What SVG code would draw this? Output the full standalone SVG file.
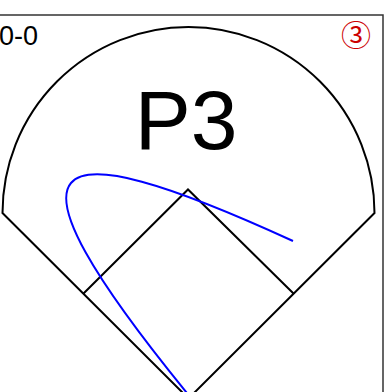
<svg xmlns="http://www.w3.org/2000/svg" width="384" height="392" viewBox="0 0 384 392">
<style>
.ln{fill:none;stroke:#000;stroke-width:2;stroke-linejoin:miter}
.frame{fill:none;stroke:#333;stroke-width:1.5}
.pitch{fill:none;stroke:#0000ff;stroke-width:2}
.t{font-family:"Liberation Sans",Arial,sans-serif;fill:#000}
</style>
<rect width="384" height="392" fill="#fff"/>
<g id="frame"><path class="frame" d="M0,15 H383 V392"/></g>
<g id="field">
<path class="ln" d="M2.5,213 A186,186 0 0 1 374.5,213 L188.5,398.5 Z"/>
<path class="ln" d="M83,294 L188,189.5 L294,294"/>
</g>
<g id="count"><text class="t" x="-1" y="45" font-size="27">0-0</text></g>
<g id="label"><text class="t" x="186" y="149" font-size="84" text-anchor="middle">P3</text></g>
<g id="num"><text x="356" y="45.5" font-size="30" text-anchor="middle" fill="#cc0000" font-family="'Noto Sans CJK JP','DejaVu Sans',sans-serif">③</text></g>
<g id="connectors">
<path class="pitch" d="M293,241 C40,125 -12,150 191,398"/>
</g>
</svg>
